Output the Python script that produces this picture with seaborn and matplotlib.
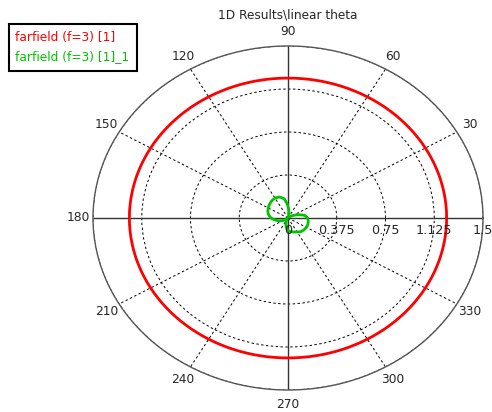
import numpy as np
import pandas as pd
import matplotlib
matplotlib.use("Agg")
import matplotlib.pyplot as plt
import matplotlib.transforms as mtransforms
from matplotlib.patches import Rectangle
import seaborn as sns

# Angles (degrees) at which both farfield cuts are sampled
angles_deg = [0, 10, 20, 30, 40, 50, 60, 70, 80, 90, 100, 110, 120, 130, 140, 150,
              160, 170, 180, 190, 200, 210, 220, 230, 240, 250, 260, 270, 280, 290,
              300, 310, 320, 330, 340, 350, 360]

# farfield (f=3) [1] -- nearly omnidirectional
farfield_1 = [1.22, 1.22, 1.22, 1.22, 1.22, 1.22, 1.22, 1.22, 1.22, 1.22, 1.22, 1.22,
              1.22, 1.22, 1.22, 1.22, 1.22, 1.22, 1.22, 1.22, 1.22, 1.22, 1.22, 1.22,
              1.22, 1.22, 1.22, 1.22, 1.22, 1.22, 1.22, 1.22, 1.22, 1.22, 1.22, 1.22,
              1.22]

# farfield (f=3) [1]_1 -- small two-lobed pattern
farfield_1_1 = [0.15, 0.13, 0.08, 0.04, 0.02, 0.01, 0.01, 0.01, 0.03, 0.10, 0.17, 0.195,
                0.20, 0.195, 0.185, 0.175, 0.165, 0.15, 0.13, 0.10, 0.07, 0.04, 0.02,
                0.01, 0.02, 0.04, 0.08, 0.11, 0.12, 0.13, 0.14, 0.155, 0.16, 0.163,
                0.162, 0.158, 0.15]

angle_ticks = [0, 30, 60, 90, 120, 150, 180, 210, 240, 270, 300, 330]
r_ticks = [0, 0.375, 0.75, 1.125, 1.5]
r_tick_labels = ["0", "0.375", "0.75", "1.125", "1.5"]

title = "1D Results\\linear theta"
labels = ["farfield (f=3) [1]", "farfield (f=3) [1]_1"]
colors = ["#ff0000", "#00c400"]

sns.set_style("white")
plt.rcParams["font.family"] = ["DejaVu Sans"]

theta = np.deg2rad(angles_deg)
df = pd.concat([
    pd.DataFrame({"theta": theta, "r": farfield_1, "series": labels[0]}),
    pd.DataFrame({"theta": theta, "r": farfield_1_1, "series": labels[1]}),
])

fig = plt.figure(figsize=(4.92, 4.12), dpi=100)
ax = fig.add_axes([93 / 492, 22 / 412, 390 / 492, 344 / 412], projection="polar")
ax.set_aspect("auto")

sns.lineplot(data=df, x="theta", y="r", hue="series", palette=colors,
             sort=False, estimator=None, linewidth=2, ax=ax, legend=False)
# Draw segments as arcs in polar space rather than straight chords
for ln in ax.lines:
    ln.get_path()._interpolation_steps = 20
    ln.set_solid_joinstyle("round")

ax.set_ylim(0, 1.5)
ax.set_xticks(np.deg2rad(angle_ticks))
ax.set_xticklabels([str(a) for a in angle_ticks], fontsize=8.8)
ax.tick_params(axis="x", pad=0)
ax.set_yticks(r_ticks[1:])
ax.set_yticklabels([])
ax.set_xlabel("")
ax.set_ylabel("")

ax.grid(True, color="black", linestyle=(0, (2.5, 2.5)), linewidth=0.7)
ax.spines["polar"].set_color("#555555")
ax.spines["polar"].set_linewidth(1.0)

# Solid main axes through the centre
ax.vlines(np.deg2rad([0, 90, 180, 270]), 0, 1.5, colors="#333333", linewidth=1.0, zorder=1)

# Radial value labels below the 0-degree axis
offset = mtransforms.offset_copy(ax.transData, fig=fig, x=0, y=-6, units="dots")
for r, lab in zip(r_ticks, r_tick_labels):
    ax.text(0, r, lab, transform=offset, ha="center", va="top", fontsize=9.2,
            clip_on=False)

fig.text(288 / 492, 1 - 15 / 412, title, ha="center", va="center", fontsize=8.7)

# Legend box with coloured entries
fig.patches.append(Rectangle((9 / 492, 1 - 71 / 412), 128 / 492, 47 / 412,
                             transform=fig.transFigure, facecolor="white",
                             edgecolor="black", linewidth=1.5, zorder=5))
for i, (lab, c) in enumerate(zip(labels, colors)):
    fig.text(15 / 492, 1 - (37 + 20 * i) / 412, lab, color=c, ha="left",
             va="center", fontsize=8.8, zorder=6)

fig.savefig("out.png", dpi=100)
